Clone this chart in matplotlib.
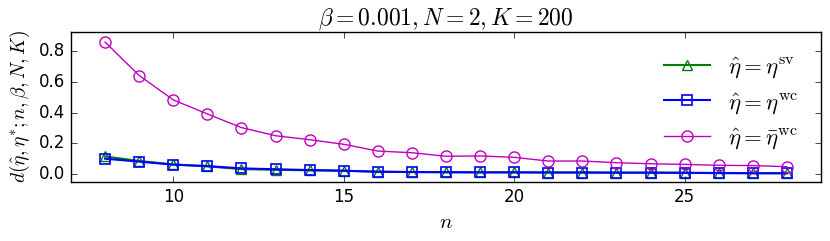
import matplotlib
matplotlib.use("Agg")
import matplotlib.pyplot as plt
import numpy as np

plt.style.use("classic")
plt.rcParams["mathtext.fontset"] = "cm"

n = list(range(8, 29))
eta_sv = [0.115, 0.085, 0.063, 0.050, 0.032, 0.028, 0.024, 0.021, 0.015, 0.013, 0.012,
          0.011, 0.011, 0.010, 0.010, 0.009, 0.009, 0.008, 0.007, 0.006, 0.005]
eta_wc = [0.100, 0.081, 0.061, 0.052, 0.037, 0.031, 0.026, 0.022, 0.015, 0.013, 0.012,
          0.011, 0.011, 0.010, 0.010, 0.009, 0.009, 0.008, 0.006, 0.005, 0.005]
eta_bar_wc = [0.861, 0.643, 0.484, 0.392, 0.303, 0.250, 0.224, 0.194, 0.150, 0.139, 0.116,
              0.118, 0.109, 0.085, 0.085, 0.074, 0.067, 0.063, 0.057, 0.055, 0.048]

labels = [r"$\hat{\eta}=\eta^{\rm sv}$", r"$\hat{\eta}=\eta^{\rm wc}$",
          r"$\hat{\eta}=\bar{\eta}^{\rm wc}$"]

fig = plt.figure(figsize=(8.3, 2.41), dpi=100)
ax = fig.add_axes([71/830, 59/241, 750/830, 150/241])
ax.plot(n, eta_sv, color="g", marker="^", mfc="none", mec="g", ms=7, mew=1, lw=1.5, label=labels[0])
ax.plot(n, eta_wc, color="b", marker="s", mfc="none", mec="b", ms=7, mew=1.2, lw=1.5, label=labels[1])
ax.plot(n, eta_bar_wc, color="m", marker="o", mfc="none", mec="m", ms=8, mew=1, lw=1, label=labels[2])
ax.set_xlim(7, 29)
ax.set_ylim(-0.052, 0.927)
ax.set_xticks([10, 15, 20, 25])
ax.set_yticks([0.0, 0.2, 0.4, 0.6, 0.8])
ax.tick_params(labelsize=12)
ax.set_xlabel(r"$n$", fontsize=15)
ax.set_ylabel(r"$d(\hat{\eta},\eta^{*};n,\beta,N,K)$", fontsize=14)
ax.set_title(r"$\beta=0.001, N=2, K=200$", fontsize=17)
ax.legend(loc="upper right", frameon=False, numpoints=1, fontsize=16.5, handlelength=2.0,
          labelspacing=0.45, borderaxespad=0.6)
fig.savefig("out.png", dpi=100)
